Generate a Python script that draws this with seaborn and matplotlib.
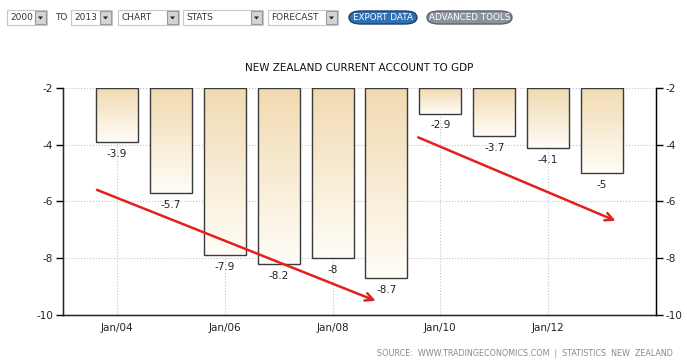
"""
New Zealand current account to GDP, bar chart recreated with seaborn.
"""

import numpy as np
import matplotlib
matplotlib.use("Agg")
import matplotlib.pyplot as plt
from matplotlib.patches import Rectangle, FancyBboxPatch, Polygon
from matplotlib.colors import LinearSegmentedColormap
import seaborn as sns

# data
years = [2004, 2005, 2006, 2007, 2008, 2009, 2010, 2011, 2012, 2013]
values = [-3.9, -5.7, -7.9, -8.2, -8, -8.7, -2.9, -3.7, -4.1, -5]
tick_years = [2004, 2006, 2008, 2010, 2012]
tick_labels = ["Jan/04", "Jan/06", "Jan/08", "Jan/10", "Jan/12"]
y_ticks = [-2, -4, -6, -8, -10]

# red trend arrows: (start year, start value) -> (end year, end value)
arrow_starts = [(2003.63, -5.59), (2009.59, -3.74)]
arrow_ends = [(2008.8, -9.5), (2013.25, -6.68)]

baseline = -2

sns.set_style("white")
plt.rcParams["font.family"] = ["DejaVu Sans"]
plt.rcParams["axes.unicode_minus"] = False

W, H = 687, 362
fig = plt.figure(figsize=(W / 100, H / 100), dpi=100)
ax = fig.add_axes([63 / W, 1 - 315 / H, (656 - 63) / W, (315 - 88) / H])


def fx(px):
    return px / W


def fy(py):
    return 1 - py / H


# ---- toolbar at the top ----
def dropdown(x0, x1, label):
    fig.add_artist(Rectangle((fx(x0), fy(25)), fx(x1 - x0), 15 / H,
                             transform=fig.transFigure, facecolor="white",
                             edgecolor="#c8c8c8", lw=0.8))
    fig.text(fx(x0 + 3), fy(17.5), label, fontsize=6.5, color="#333333", va="center")
    bx = x1 - 12
    fig.add_artist(Rectangle((fx(bx), fy(24)), fx(11), 13 / H,
                             transform=fig.transFigure, facecolor="#d4d4d4",
                             edgecolor="#9a9a9a", lw=0.8))
    fig.add_artist(Polygon([(fx(bx + 3), fy(16.5)), (fx(bx + 8), fy(16.5)),
                            (fx(bx + 5.5), fy(19.5))], closed=True,
                           transform=fig.transFigure, facecolor="#222222", lw=0))


dropdown(7, 47, "2000")
fig.text(fx(55), fy(17.5), "TO", fontsize=6.5, color="#333333", va="center")
dropdown(71, 112, "2013")
dropdown(118, 179, "CHART")
dropdown(183, 263, "STATS")
dropdown(268, 338, "FORECAST")


def pill(x0, x1, label, face, edge):
    fig.add_artist(FancyBboxPatch((fx(x0), fy(24)), fx(x1 - x0), 13 / H,
                                  boxstyle="round,pad=0,rounding_size=0.018",
                                  transform=fig.transFigure, facecolor=face,
                                  edgecolor=edge, lw=1.0))
    fig.text(fx((x0 + x1) / 2), fy(17.5), label, fontsize=6.3, color="white",
             ha="center", va="center")


pill(349, 417, "EXPORT DATA", "#2f6fb3", "#1d3f66")
pill(427, 512, "ADVANCED TOOLS", "#8c939c", "#5c6168")

# ---- bars ----
sns.barplot(x=years, y=values, native_scale=True, width=0.78, color="#f0d8a8",
            edgecolor="#3a3a3a", linewidth=1.0, ax=ax, zorder=3)

cmap = LinearSegmentedColormap.from_list("tan", ["#f1dab0", "#fffdf8"])
grad = np.linspace(0, 1, 256).reshape(-1, 1)
for patch, v in zip(ax.patches, values):
    patch.set_y(baseline)
    patch.set_height(v - baseline)
    patch.set_facecolor("none")
    x0 = patch.get_x()
    x1 = x0 + patch.get_width()
    im = ax.imshow(grad, extent=[x0, x1, v, baseline], origin="upper",
                   aspect="auto", cmap=cmap, zorder=2)
    im.set_clip_path(patch)
    ax.annotate(f"{v:g}", xy=(x0 + patch.get_width() / 2, v),
                xytext=(0, -5), textcoords="offset points",
                ha="center", va="top", fontsize=7.5, color="#222222", zorder=4)

for start, end in zip(arrow_starts, arrow_ends):
    ax.annotate("", xy=end, xytext=start, zorder=5,
                arrowprops=dict(arrowstyle="->", color="#e3201b", lw=1.8,
                                mutation_scale=14, shrinkA=0, shrinkB=0))

ax.set_xlim(2003, 2014)
ax.set_ylim(-10, -2)
ax.set_xticks(tick_years)
ax.set_xticklabels(tick_labels)
ax.set_yticks(y_ticks)
ax.set_xlabel("")
ax.set_ylabel("")
ax.grid(True, linestyle=":", color="#c4c4c4", linewidth=0.8, zorder=0)
ax.set_axisbelow(True)
ax.tick_params(axis="x", length=0, pad=6, labelsize=7.5, labelcolor="#222222")
ax.tick_params(axis="y", direction="out", length=5, width=1, color="black",
               pad=2, labelsize=7.5, labelcolor="#222222")
ax.spines["top"].set_visible(False)
for side in ["left", "bottom", "right"]:
    ax.spines[side].set_color("black")
    ax.spines[side].set_linewidth(1.0)

ax2 = ax.twinx()
ax2.set_ylim(-10, -2)
ax2.set_yticks(y_ticks)
ax2.tick_params(axis="y", direction="out", length=5, width=1, color="black",
                pad=2, labelsize=7.5, labelcolor="#222222")
ax2.spines["top"].set_visible(False)
ax2.spines["right"].set_color("black")

ax.set_title("NEW ZEALAND CURRENT ACCOUNT TO GDP", fontsize=7.5,
             color="#111111", pad=12)

fig.text(fx(673), fy(354), "SOURCE:  WWW.TRADINGECONOMICS.COM  |  STATISTICS  NEW  ZEALAND",
         fontsize=5.8, color="#8a8a8a", ha="right", va="center")

fig.savefig("out.png", dpi=100)
